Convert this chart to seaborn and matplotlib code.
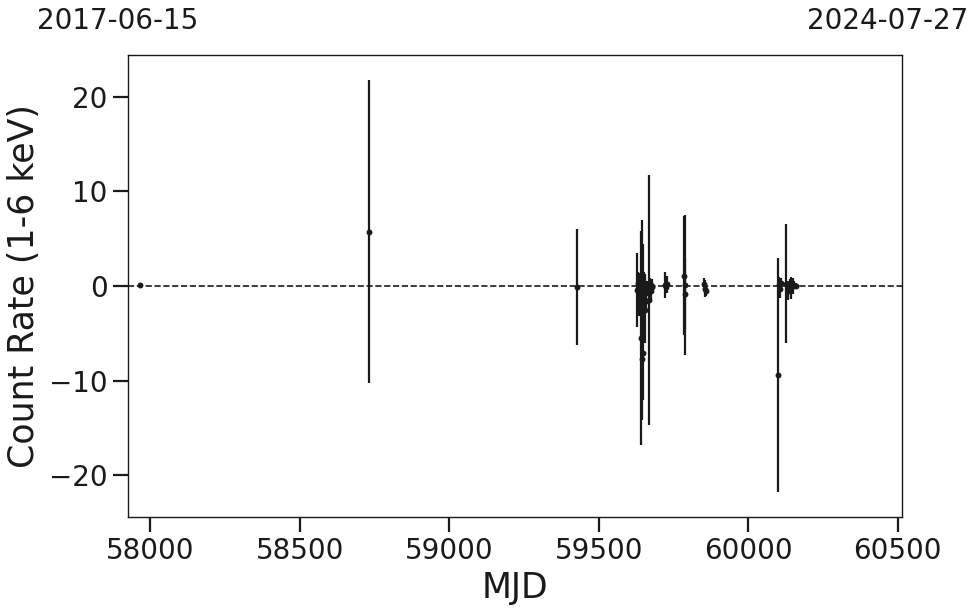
import numpy as np
import pandas as pd
import matplotlib
matplotlib.use('Agg')
import matplotlib.pyplot as plt
import seaborn as sns

# ---------- data ----------
mjd = [57965, 58731, 59429,
       59628, 59632, 59636, 59640, 59643, 59645, 59646, 59648, 59650, 59652,
       59654, 59656, 59659, 59663, 59670, 59672, 59674, 59677, 59680,
       59722, 59726, 59730,
       59786, 59788, 59790,
       59852, 59855, 59858,
       60100, 60103, 60106, 60110, 60128, 60132, 60140, 60145, 60150, 60155, 60160]
rate = [0.1, 5.75, -0.1,
        -0.4, 0.3, -0.9, -1.5, -5.5, 0.3, -7.7, -7.1, -0.4, -1.0,
        -0.2, -2.5, -1.6, -0.3, -1.5, 0.2, -0.5, -0.1, 0.0,
        0.1, -0.1, 0.2,
        1.1, 0.1, -0.8,
        0.2, -0.3, -0.5,
        -9.4, 0.1, -0.3, 0.3, 0.25, -0.5, 0.1, -0.2, 0.0, 0.1, 0.0]
rate_err = [0.2, 16.0, 6.1,
            3.9, 1.2, 2.3, 1.8, 11.3, 6.7, 6.5, 5.0, 4.8, 2.5,
            1.5, 3.5, 1.0, 0.8, 13.2, 0.6, 1.0, 0.5, 0.7,
            1.4, 0.6, 0.9,
            6.3, 7.4, 3.8,
            0.6, 0.9, 0.6,
            12.4, 0.9, 1.0, 0.5, 6.25, 1.0, 0.6, 1.2, 0.8, 0.4, 0.3]
x_limits = (57925, 60515)
date_labels = ['2017-06-15', '2024-07-27']

df = pd.DataFrame({'MJD': mjd, 'rate': rate, 'err': rate_err})

# ---------- figure ----------
sns.set_theme(style='ticks', context='poster')
plt.rcParams['font.family'] = ['DejaVu Sans']
plt.rcParams.update({'text.color': 'k', 'axes.labelcolor': 'k', 'xtick.color': 'k',
                     'ytick.color': 'k', 'axes.edgecolor': 'k'})

fig, ax = plt.subplots(figsize=(9.8, 6.13), dpi=100)
fig.subplots_adjust(left=0.1306, right=0.9204, top=0.9103, bottom=0.1566)

ax.errorbar(df['MJD'], df['rate'], yerr=df['err'], fmt='none', ecolor='k', elinewidth=1.6, capsize=0, zorder=2)
sns.scatterplot(data=df, x='MJD', y='rate', ax=ax, color='k', s=18, edgecolor='k', linewidth=0, zorder=3)
ax.axhline(0, color='k', ls='--', lw=1.2, zorder=1)

ax.set_xlim(*x_limits)
ylim = 1.12 * np.max(np.abs(np.concatenate([df['rate'] + df['err'], df['rate'] - df['err']])))
ax.set_ylim(-ylim, ylim)
ax.set_xticks([58000, 58500, 59000, 59500, 60000, 60500])
ax.set_yticks([-20, -10, 0, 10, 20])

ax.set_xlabel('MJD', fontsize=25, labelpad=4)
ax.set_ylabel('Count Rate (1-6 keV)', fontsize=25, labelpad=6)
ax.tick_params(labelsize=20, length=11, width=1.6)
for sp in ax.spines.values():
    sp.set_linewidth(1.0)

ax.text(-0.013, 1.074, date_labels[0], transform=ax.transAxes, ha='center', va='center', fontsize=20)
ax.text(0.982, 1.074, date_labels[1], transform=ax.transAxes, ha='center', va='center', fontsize=20)

fig.savefig('out.png', dpi=100)
